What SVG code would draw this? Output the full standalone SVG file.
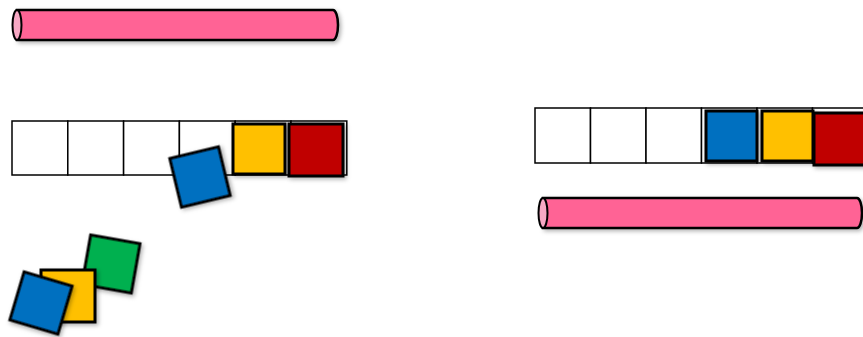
<svg xmlns="http://www.w3.org/2000/svg" width="863" height="337" viewBox="0 0 863 337">
<defs>
<filter id="sh" x="-20%" y="-20%" width="150%" height="150%">
<feDropShadow dx="2" dy="2" stdDeviation="2" flood-color="#000" flood-opacity="0.3"/>
</filter>
<style>
.cell{fill:#fff;stroke:#000;stroke-width:1.5}
.sq{stroke:#000;stroke-width:3;filter:url(#sh)}
.blue{fill:#0070C0}.yellow{fill:#FFC000}.red{fill:#C00000}.green{fill:#00B050}
.pipe{fill:#FF6495;stroke:#000;stroke-width:2.5;filter:url(#sh)}
.cap{fill:#F7A8C4;stroke:#000;stroke-width:2}
</style>
</defs>
<g id="pipe-top">
<path class="pipe" d="M17,10 H333 A5,15 0 0 1 333,40 H17 Z"/>
<ellipse class="cap" cx="17" cy="25" rx="4.5" ry="15"/>
</g>
<g id="row-left">
<rect class="cell" x="12" y="121" width="55.8" height="54"/>
<rect class="cell" x="67.8" y="121" width="55.8" height="54"/>
<rect class="cell" x="123.6" y="121" width="55.8" height="54"/>
<rect class="cell" x="179.4" y="121" width="55.8" height="54"/>
<rect class="cell" x="235.2" y="121" width="55.8" height="54"/>
<rect class="cell" x="291" y="121" width="55.8" height="54"/>
<rect class="sq yellow" x="233" y="124" width="52" height="50"/>
<rect class="sq red" x="289" y="124" width="54" height="52"/>
</g>
<g id="blue-falling">
<rect class="sq blue" x="-25" y="-25" width="50" height="50" transform="translate(200,177) rotate(-13.5)"/>
</g>
<g id="pile">
<rect class="sq green" x="-25" y="-25" width="50" height="50" transform="translate(111,264) rotate(10)"/>
<rect class="sq yellow" x="41" y="270" width="54" height="52"/>
<rect class="sq blue" x="-25" y="-25" width="50" height="50" transform="translate(41,303) rotate(16.5)"/>
</g>
<g id="row-right">
<rect class="cell" x="535" y="108" width="55.5" height="55"/>
<rect class="cell" x="590.5" y="108" width="55.5" height="55"/>
<rect class="cell" x="646" y="108" width="55.5" height="55"/>
<rect class="cell" x="701.5" y="108" width="55.5" height="55"/>
<rect class="cell" x="757" y="108" width="55.5" height="55"/>
<rect class="cell" x="812.5" y="108" width="55.5" height="55"/>
<rect class="sq blue" x="706" y="111" width="51" height="50"/>
<rect class="sq yellow" x="762" y="111" width="51" height="50"/>
<rect class="sq red" x="814" y="113" width="56" height="52"/>
</g>
<g id="pipe-right">
<path class="pipe" d="M543,198 H857 A5,15 0 0 1 857,228 H543 Z"/>
<ellipse class="cap" cx="543" cy="213" rx="4.5" ry="15"/>
</g>
</svg>
